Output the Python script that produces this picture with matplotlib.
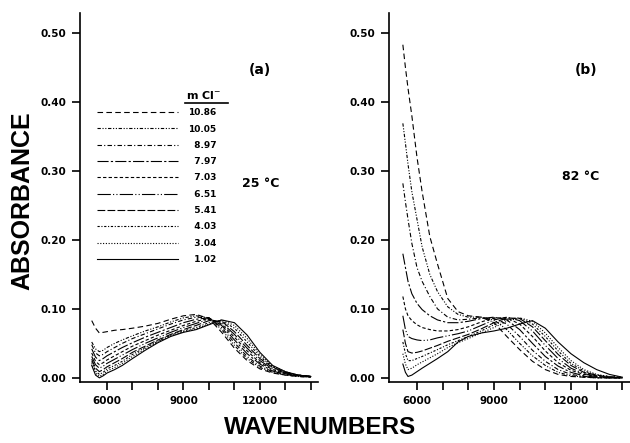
import matplotlib
matplotlib.use("Agg")
import matplotlib.pyplot as plt

# concentrations (m Cl-) and matching line styles
conc = ["10.86", "10.05", "8.97", "7.97", "7.03", "6.51", "5.41", "4.03", "3.04", "1.02"]
styles = [(0, (5, 3)), (0, (3, 1.5, 1, 1.5, 1, 1.5)), (0, (4, 2, 1, 2)),
          (0, (10, 2, 2, 2)), (0, (3, 2)), (0, (12, 2, 1, 2, 1, 2)),
          (0, (7, 2)), (0, (2, 1.5, 1, 1.5)), (0, (1, 1.5)), "-"]

# panel (a) 25 C
wn_a = [5400, 5550, 5700, 5850, 6000, 6300, 6600, 7000, 7500, 8000, 8500,
        9000, 9500, 10000, 10500, 11000, 11500, 12000, 12500, 13000, 13500, 14000]
a_1086 = [0.083, 0.072, 0.065, 0.066, 0.067, 0.069, 0.070, 0.072, 0.075, 0.079, 0.085, 0.090, 0.092, 0.086, 0.066, 0.043, 0.025, 0.013, 0.007, 0.004, 0.002, 0.001]
a_1005 = [0.052, 0.042, 0.038, 0.040, 0.044, 0.050, 0.055, 0.061, 0.068, 0.074, 0.081, 0.087, 0.090, 0.087, 0.070, 0.047, 0.028, 0.015, 0.008, 0.004, 0.002, 0.001]
a_897 = [0.048, 0.036, 0.032, 0.034, 0.038, 0.044, 0.050, 0.057, 0.064, 0.071, 0.078, 0.084, 0.088, 0.087, 0.073, 0.051, 0.031, 0.017, 0.009, 0.005, 0.003, 0.001]
a_797 = [0.042, 0.030, 0.025, 0.028, 0.032, 0.038, 0.044, 0.051, 0.059, 0.066, 0.073, 0.080, 0.085, 0.087, 0.076, 0.055, 0.035, 0.020, 0.010, 0.005, 0.003, 0.002]
a_703 = [0.036, 0.024, 0.019, 0.022, 0.026, 0.032, 0.038, 0.046, 0.054, 0.062, 0.069, 0.076, 0.082, 0.086, 0.078, 0.059, 0.039, 0.022, 0.012, 0.006, 0.003, 0.002]
a_651 = [0.031, 0.019, 0.014, 0.017, 0.021, 0.027, 0.033, 0.041, 0.050, 0.058, 0.066, 0.073, 0.079, 0.085, 0.080, 0.063, 0.043, 0.025, 0.013, 0.007, 0.004, 0.002]
a_541 = [0.027, 0.014, 0.009, 0.012, 0.016, 0.022, 0.028, 0.037, 0.046, 0.055, 0.063, 0.070, 0.076, 0.083, 0.082, 0.067, 0.047, 0.028, 0.015, 0.008, 0.004, 0.002]
a_403 = [0.024, 0.010, 0.005, 0.008, 0.013, 0.018, 0.024, 0.034, 0.044, 0.053, 0.062, 0.068, 0.073, 0.080, 0.083, 0.072, 0.052, 0.031, 0.016, 0.008, 0.004, 0.002]
a_304 = [0.021, 0.007, 0.002, 0.005, 0.010, 0.015, 0.021, 0.031, 0.042, 0.052, 0.061, 0.067, 0.071, 0.078, 0.084, 0.076, 0.057, 0.034, 0.017, 0.009, 0.004, 0.002]
a_102 = [0.018, 0.004, 0.000, 0.003, 0.007, 0.012, 0.018, 0.028, 0.040, 0.051, 0.060, 0.066, 0.070, 0.077, 0.084, 0.080, 0.062, 0.037, 0.018, 0.009, 0.004, 0.002]

# panel (b) 82 C
wn_b = [5450, 5550, 5650, 5800, 6000, 6200, 6500, 6800, 7200, 7600, 8000, 8500,
        9000, 9500, 10000, 10500, 11000, 11500, 12000, 12500, 13000, 13500, 14000]
b_1086 = [0.483, 0.450, 0.420, 0.380, 0.320, 0.270, 0.205, 0.165, 0.115, 0.096, 0.090, 0.088, 0.080, 0.060, 0.041, 0.024, 0.012, 0.005, 0.002, 0.001, 0.000, 0.000, 0.000]
b_1005 = [0.369, 0.340, 0.310, 0.270, 0.230, 0.190, 0.150, 0.125, 0.103, 0.092, 0.088, 0.088, 0.084, 0.070, 0.050, 0.032, 0.018, 0.008, 0.003, 0.001, 0.000, 0.000, 0.000]
b_897 = [0.282, 0.255, 0.230, 0.195, 0.160, 0.140, 0.118, 0.100, 0.088, 0.084, 0.085, 0.087, 0.086, 0.078, 0.060, 0.040, 0.024, 0.012, 0.005, 0.002, 0.001, 0.000, 0.000]
b_797 = [0.180, 0.160, 0.140, 0.122, 0.108, 0.099, 0.090, 0.084, 0.080, 0.080, 0.082, 0.086, 0.088, 0.084, 0.070, 0.050, 0.031, 0.017, 0.008, 0.003, 0.001, 0.000, 0.000]
b_703 = [0.118, 0.100, 0.090, 0.083, 0.077, 0.073, 0.070, 0.068, 0.068, 0.070, 0.074, 0.081, 0.087, 0.087, 0.078, 0.060, 0.039, 0.022, 0.011, 0.005, 0.002, 0.001, 0.000]
b_651 = [0.090, 0.070, 0.060, 0.057, 0.055, 0.054, 0.055, 0.058, 0.061, 0.064, 0.068, 0.076, 0.084, 0.088, 0.083, 0.068, 0.047, 0.028, 0.014, 0.006, 0.003, 0.001, 0.000]
b_541 = [0.070, 0.050, 0.038, 0.036, 0.037, 0.039, 0.043, 0.047, 0.053, 0.058, 0.063, 0.071, 0.080, 0.087, 0.086, 0.074, 0.054, 0.034, 0.018, 0.008, 0.004, 0.001, 0.000]
b_403 = [0.052, 0.035, 0.025, 0.025, 0.028, 0.031, 0.036, 0.041, 0.048, 0.054, 0.060, 0.068, 0.077, 0.085, 0.087, 0.078, 0.060, 0.039, 0.021, 0.010, 0.004, 0.002, 0.000]
b_304 = [0.035, 0.020, 0.012, 0.014, 0.019, 0.023, 0.029, 0.035, 0.044, 0.051, 0.057, 0.065, 0.073, 0.082, 0.087, 0.082, 0.065, 0.044, 0.025, 0.012, 0.005, 0.002, 0.001]
b_102 = [0.020, 0.008, 0.002, 0.004, 0.009, 0.014, 0.021, 0.028, 0.038, 0.052, 0.060, 0.065, 0.068, 0.072, 0.078, 0.083, 0.072, 0.052, 0.035, 0.022, 0.012, 0.005, 0.001]

series_a = [a_1086, a_1005, a_897, a_797, a_703, a_651, a_541, a_403, a_304, a_102]
series_b = [b_1086, b_1005, b_897, b_797, b_703, b_651, b_541, b_403, b_304, b_102]

fig = plt.figure(figsize=(6.3, 4.43), dpi=100)
ax_a = fig.add_axes([80 / 630, 1 - 382 / 443, 238 / 630, 369 / 443])
ax_b = fig.add_axes([389 / 630, 1 - 382 / 443, 241 / 630, 369 / 443])

for ax, wn, series in [(ax_a, wn_a, series_a), (ax_b, wn_b, series_b)]:
    for y, ls, lab in zip(series, styles, conc):
        ax.plot(wn, y, color="black", lw=0.8, linestyle=ls, label=lab)
    ax.set_ylim(-0.006, 0.529)
    ax.set_yticks([0.0, 0.1, 0.2, 0.3, 0.4, 0.5])
    ax.set_yticklabels(["0.00", "0.10", "0.20", "0.30", "0.40", "0.50"])
    ax.set_xticks(range(6000, 14001, 1000))
    ax.set_xticklabels(["6000", "", "", "9000", "", "", "12000", "", ""])
    for s in ["top", "right"]:
        ax.spines[s].set_visible(False)
    for s in ["left", "bottom"]:
        ax.spines[s].set_linewidth(1.2)
    ax.tick_params(direction="out", length=6, width=1.2, pad=4)
    for t in ax.get_xticklabels() + ax.get_yticklabels():
        t.set_fontsize(7.5)
        t.set_fontweight("bold")

ax_a.set_xlim(4940, 14280)
ax_b.set_xlim(4910, 14300)

# legend with numbers right aligned via figure spaces
leg = ax_a.legend(frameon=False, loc="upper left", bbox_to_anchor=(0.07, 0.742),
                  borderaxespad=0, borderpad=0, handlelength=9.0, handletextpad=1.1,
                  labelspacing=0.81, prop={"size": 6.5, "weight": "bold"})
for t in leg.get_texts():
    if len(t.get_text()) == 4:
        t.set_text("\u2007" + t.get_text())

ax_a.text(0.52, 0.762, "m Cl$^{-}$", transform=ax_a.transAxes, ha="center", va="bottom",
          fontsize=8, fontweight="bold")
ax_a.plot([0.441, 0.622], [0.757, 0.757], transform=ax_a.transAxes, color="black",
          lw=1.2, clip_on=False)

ax_a.text(0.756, 0.846, "(a)", transform=ax_a.transAxes, ha="center", va="center",
          fontsize=10, fontweight="bold")
ax_a.text(0.76, 0.539, "25 °C", transform=ax_a.transAxes, ha="center", va="center",
          fontsize=9, fontweight="bold")
ax_b.text(0.817, 0.846, "(b)", transform=ax_b.transAxes, ha="center", va="center",
          fontsize=10, fontweight="bold")
ax_b.text(0.797, 0.556, "82 °C", transform=ax_b.transAxes, ha="center", va="center",
          fontsize=9, fontweight="bold")

fig.text(22 / 630, 1 - 201 / 443, "ABSORBANCE", rotation=90, ha="center", va="center",
         fontsize=18, fontweight="bold", family="Liberation Sans")
fig.text(320 / 630, 1 - 427 / 443, "WAVENUMBERS", ha="center", va="center",
         fontsize=17.5, fontweight="bold", family="Liberation Sans")

fig.savefig("out.png", dpi=100)
